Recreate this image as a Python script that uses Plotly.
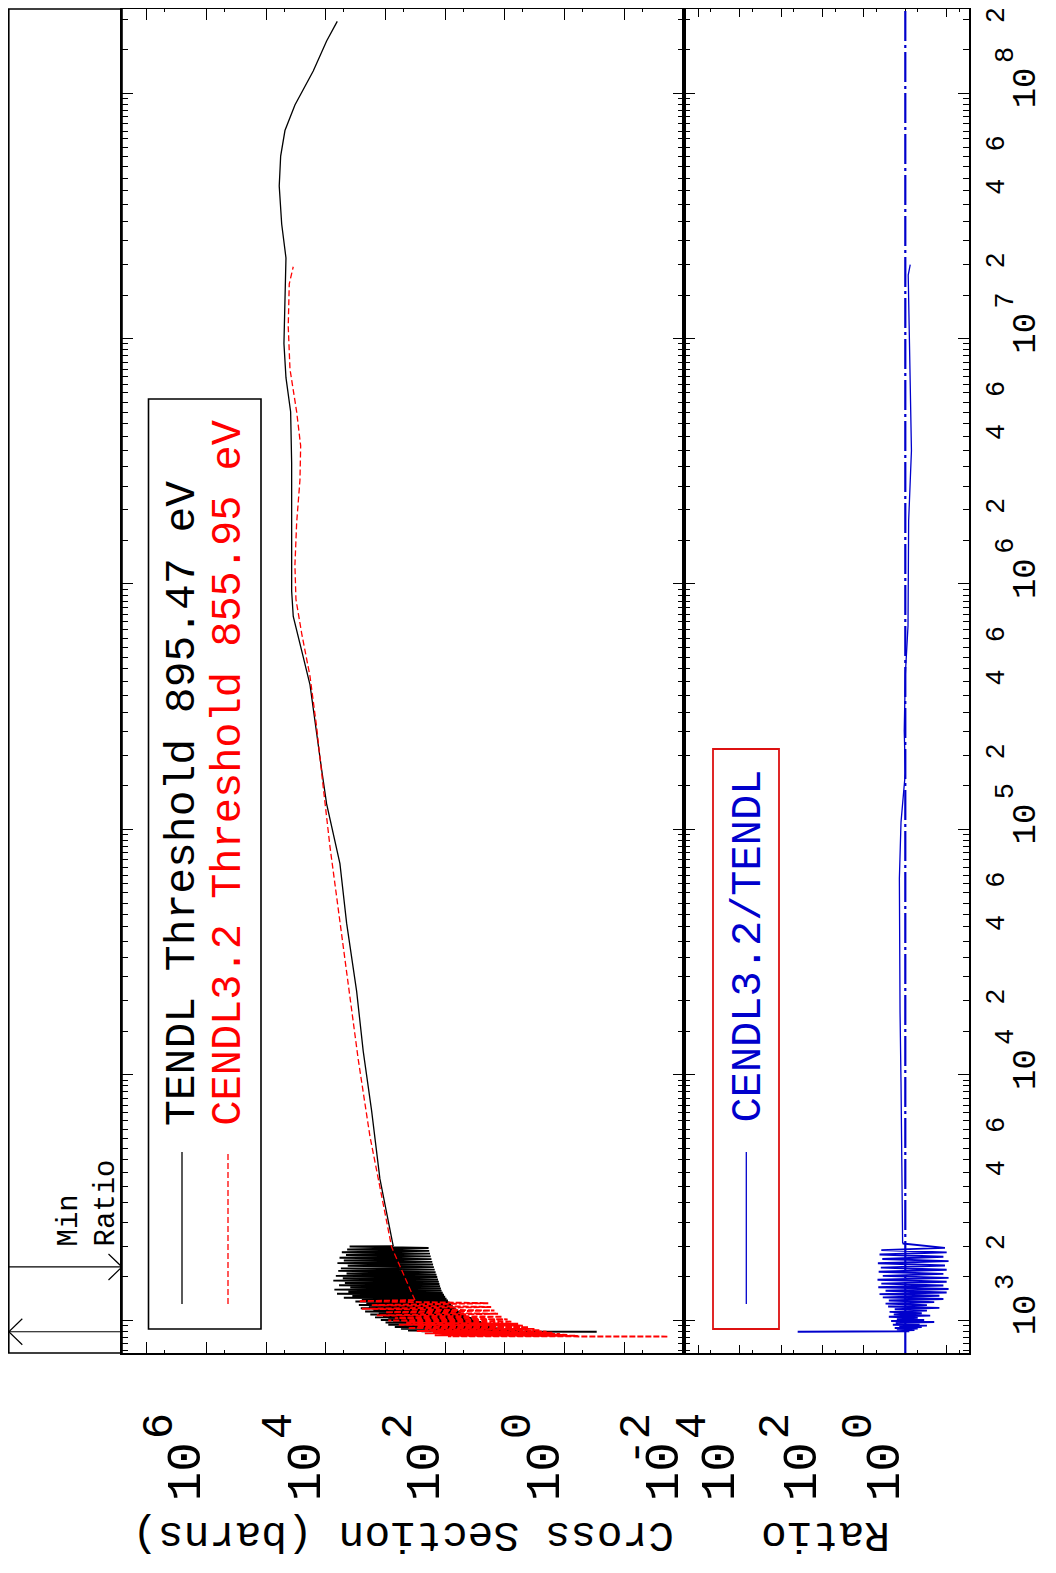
import math
import plotly.graph_objects as go

# ---------------- data ----------------
# TENDL: resonance region (eV, barns)
tendl_res_energy = [895.47, 896, 899, 902, 905, 909, 912, 916, 920, 924,
                    928, 932, 937, 941, 946, 951, 956, 961, 966, 971,
                    977, 982, 988, 994, 1000, 1006, 1012, 1019, 1025, 1032,
                    1039, 1046, 1053, 1060, 1068, 1075, 1083, 1091, 1099, 1107,
                    1116, 1124, 1133, 1142, 1151, 1161, 1170, 1180, 1190, 1200,
                    1211, 1222, 1233, 1244, 1256, 1267, 1279, 1292, 1304, 1317,
                    1330, 1344, 1358, 1372, 1386, 1401, 1416, 1431, 1447, 1463,
                    1479, 1496, 1513, 1530, 1548, 1566, 1585, 1604, 1623, 1643,
                    1663, 1684, 1705, 1726, 1748, 1770, 1793, 1816, 1840, 1864,
                    1888, 1913, 1939, 1965, 1992]
tendl_res_xs = [0.29, 3.8, 250, 6, 420, 8, 300, 10, 550, 12,
                380, 14, 700, 16, 500, 18, 900, 20, 650, 22,
                1000, 25, 750, 28, 1200, 32, 900, 36, 1500, 40,
                1100, 45, 1800, 50, 1300, 55, 2200, 60, 1600, 65,
                2600, 70, 1900, 75, 2800, 80, 2100, 85, 3200, 90,
                2500, 95, 5000, 100, 3600, 105, 6500, 110, 4200, 115,
                7200, 118, 3900, 122, 6000, 125, 4800, 128, 7500, 132,
                5200, 136, 6800, 140, 4500, 145, 6200, 150, 5600, 155,
                4300, 160, 6400, 165, 5000, 170, 5900, 175, 4600, 180,
                5400, 185, 4400, 190, 4000]
# TENDL: smooth region
tendl_energy = [2000, 3758, 7112, 12470, 21830, 41400, 72440, 126800, 174600, 281800,
                388200, 534600, 736200, 935400, 1.288e6, 1.923e6, 3.105e6, 5.023e6,
                6.918e6, 9.528e6, 1.419e7, 2.128e7, 2.924e7, 4.178e7, 5.534e7,
                7.031e7, 8.933e7, 1.230e8, 1.629e8, 1.959e8]
tendl_xs = [743, 1242, 1710, 2366, 3048, 4487, 5808, 9705, 11750, 15240,
            18450, 25410, 35160, 37410, 37410, 36560, 37410, 38900,
            46560, 50350, 48420, 46560, 54950, 60390, 57150,
            48420, 32960, 16260, 9705, 6442]

# CENDL-3.2: resonance region
cendl_res_energy = [855.95, 856.5, 859, 862, 866, 870, 874, 878, 882, 887,
                    892, 897, 902, 908, 914, 920, 927, 934, 941, 949,
                    957, 966, 975, 985, 995, 1006, 1018, 1031, 1045, 1060,
                    1076, 1093, 1111, 1130, 1150, 1171, 1193]
cendl_res_xs = [0.019, 0.43, 90, 0.6, 150, 0.9, 110, 1.2, 220, 1.6,
                160, 2.0, 300, 2.6, 220, 3.2, 420, 4.0, 300, 5,
                600, 6, 450, 7.5, 900, 9, 700, 11, 1400, 13,
                1000, 15, 2500, 17, 1700, 19, 2800]
# CENDL-3.2: smooth region
cendl_energy = [1205, 1982, 3199, 5598, 11510, 23600, 48530, 84920, 148600, 260600,
                420700, 628100, 865000, 1.191e6, 1.774e6, 2.649e6, 3.648e6, 5.023e6,
                7.499e6, 1.119e7, 1.667e7, 1.959e7]
cendl_xs = [322, 791, 1161, 1824, 2864, 4217, 6194, 8531, 11070, 14260,
            18450, 25410, 31700, 32960, 30830, 27160, 26420, 30830,
            39900, 42660, 41020, 35160]

# Ratio CENDL-3.2 / TENDL
ratio_res_energy = [896, 897, 900, 905, 910, 916, 922, 928, 935, 942,
                    949, 957, 965, 973, 982, 991, 1000, 1010, 1020, 1031,
                    1042, 1054, 1066, 1079, 1092, 1106, 1120, 1135, 1150, 1166,
                    1183, 1200, 1218, 1236, 1255, 1275, 1295, 1316, 1338, 1360,
                    1383, 1407, 1432, 1458, 1485, 1513, 1542, 1572, 1603, 1635,
                    1668, 1702, 1737, 1773, 1810, 1848, 1887, 1927, 1968]
ratio_res = [400, 1.1, 0.8, 1.5, 0.6, 1.6, 0.5, 1.8, 0.4, 1.4,
             0.3, 2.0, 0.45, 1.7, 0.2, 2.2, 0.35, 1.6, 0.5, 2.5,
             0.25, 1.9, 0.4, 2.4, 0.3, 1.8, 0.15, 2.6, 0.3, 3.0,
             0.2, 2.5, 0.12, 3.5, 0.15, 4.2, 0.1, 3.0, 0.09, 4.5,
             0.12, 3.8, 0.1, 4.7, 0.09, 3.5, 0.12, 4.4, 0.1, 3.9,
             0.11, 4.6, 0.09, 3.6, 0.12, 4.2, 0.1, 3.8, 0.11]
ratio_energy = [2051, 4842, 9333, 17990, 34750, 62950, 106900, 169400, 251200,
                424600, 673000, 1.807e6, 3.491e6, 9.397e6, 1.811e7, 2.0e7]
ratio_vals = [1.16, 1.20, 1.27, 1.34, 1.39, 1.39, 1.27, 1.0, 1.06,
              1.0, 0.86, 0.83, 0.71, 0.80, 0.85, 0.76]

# markers in the left strip (eV)
min_energy = 895.47
ratio_marker_energy = 1645

# tick labels
xs_label_exps = [6, 4, 2, 0, -2]
ratio_label_exps = [4, 2, 0]
energy_decades = [3, 4, 5, 6, 7, 8]
energy_minor_labels = [2, 4, 6]

# ---------------- geometry ----------------
# page coordinates (1056x1573 window); the page body has an 8px margin
OFF = 8
FW, FH = 1040, 1555
X_STRIP, X_MAIN, X_DIV, X_RIGHT = 8.8, 122, 684, 969
Y_TOP, Y_BOT = 9, 1353
E_RANGE = [2.86553, 8.34230]
XS_RANGE = [7.415, -2.0]
R_RANGE = [5.35, -1.54]


def fx(p):
    return (p - OFF) / FW


def fy(p):
    return 1 - (p - OFF) / FH


MONO = "Liberation Mono"
BLUE = "#0000cc"
NB = "\u00a0"

# energy ticks: every 0.5 x 10^n
e_all = []
for n in range(2, 9):
    for k in range(2, 20):
        v = k * 0.5 * 10 ** n
        if 10 ** E_RANGE[0] <= v <= 10 ** E_RANGE[1]:
            e_all.append(v)
e_dec = [10.0 ** n for n in energy_decades]
e_small = [v for v in e_all if all(abs(v - d) > 1e-6 * d for d in e_dec)]
e_lab_vals = [m * 10.0 ** n for n in range(3, 9) for m in energy_minor_labels
              if m * 10.0 ** n <= 10 ** E_RANGE[1]]
e_lab_text = [str(m) for n in range(3, 9) for m in energy_minor_labels
              if m * 10.0 ** n <= 10 ** E_RANGE[1]]

xs_exps = [n for n in range(-2, 8) if n <= XS_RANGE[0]]
xs_dec = [10.0 ** n for n in xs_exps]
xs_text = ["10" if n in xs_label_exps else "" for n in xs_exps]
xs_sup = [(str(n) if n < 0 else NB + str(n)) if n in xs_label_exps else "" for n in xs_exps]
xs_minor = [5 * 10.0 ** n for n in range(-2, 7) if math.log10(5 * 10.0 ** n) <= XS_RANGE[0]]

r_exps = [n for n in range(-1, 6) if n <= R_RANGE[0]]
r_dec = [10.0 ** n for n in r_exps]
r_text = ["10" if n in ratio_label_exps else "" for n in r_exps]
r_sup = [NB + str(n) if n in ratio_label_exps else "" for n in r_exps]
r_minor = [5 * 10.0 ** n for n in range(-2, 5) if R_RANGE[1] <= math.log10(5 * 10.0 ** n) <= R_RANGE[0]]

fig = go.Figure()

LW = 1.3
RW = 1.9
fig.add_trace(go.Scatter(x=tendl_res_xs + tendl_xs[:1], y=tendl_res_energy + tendl_energy[:1],
                         mode="lines", line=dict(color="black", width=RW),
                         xaxis="x", yaxis="y", showlegend=False))
fig.add_trace(go.Scatter(x=tendl_xs, y=tendl_energy,
                         mode="lines", line=dict(color="black", width=LW),
                         xaxis="x", yaxis="y", showlegend=False))
fig.add_trace(go.Scatter(x=cendl_res_xs + cendl_xs[:1], y=cendl_res_energy + cendl_energy[:1],
                         mode="lines", line=dict(color="red", width=RW, dash="6px,2px"),
                         xaxis="x", yaxis="y", showlegend=False))
fig.add_trace(go.Scatter(x=cendl_xs, y=cendl_energy,
                         mode="lines", line=dict(color="red", width=LW, dash="6px,3px"),
                         xaxis="x", yaxis="y", showlegend=False))
fig.add_trace(go.Scatter(x=ratio_res + ratio_vals[:1], y=ratio_res_energy + ratio_energy[:1],
                         mode="lines", line=dict(color=BLUE, width=RW),
                         xaxis="x2", yaxis="y2", showlegend=False))
fig.add_trace(go.Scatter(x=ratio_vals, y=ratio_energy,
                         mode="lines", line=dict(color=BLUE, width=LW),
                         xaxis="x2", yaxis="y2", showlegend=False))

# arrows in the left strip
px_per_dec = (Y_BOT - Y_TOP) / (E_RANGE[1] - E_RANGE[0])
head_f = 10 ** (13 / px_per_dec)
head_dx = 13.5 / (X_MAIN - X_STRIP)
arr_x, arr_y = [], []
arr_x += [1, 0, None, head_dx, 0, head_dx, None]
arr_y += [min_energy, min_energy, None, min_energy * head_f, min_energy, min_energy / head_f, None]
arr_x += [0, 1, None, 1 - head_dx, 1, 1 - head_dx]
arr_y += [ratio_marker_energy, ratio_marker_energy, None, ratio_marker_energy * head_f,
          ratio_marker_energy, ratio_marker_energy / head_f]
fig.add_trace(go.Scatter(x=arr_x, y=arr_y, mode="lines", line=dict(color="black", width=1.2),
                         xaxis="x3", yaxis="y", showlegend=False, connectgaps=False))

for xa, ya in [("x5", "y"), ("x6", "y2"), ("x2", "y4"), ("x2", "y5")]:
    fig.add_trace(go.Scatter(x=[None], y=[None], xaxis=xa, yaxis=ya, showlegend=False))

axis_common = dict(showline=True, linecolor="black", linewidth=1.6, showgrid=False,
                   zeroline=False, ticks="inside", tickcolor="black", tickwidth=1.3,
                   mirror="ticks", type="log", automargin=False)
label_only = dict(type="log", showline=False, showgrid=False, zeroline=False, ticks="",
                  tickmode="array", automargin=False, ticklabeloverflow="allow")


def minor(vals, ln):
    return dict(tickvals=vals, ticklen=ln, ticks="inside", tickcolor="black", tickwidth=1.2)


XFONT = dict(family=MONO, size=49, color="black")
XSUPFONT = dict(family=MONO, size=44, color="black")
EFONT = dict(family=MONO, size=34, color="black")
ESUPFONT = dict(family=MONO, size=27, color="black")

fig.update_layout(
    width=FW, height=FH,
    margin=dict(l=0, r=0, t=0, b=0, autoexpand=False),
    paper_bgcolor="white", plot_bgcolor="rgba(0,0,0,0)",
    showlegend=False,
    xaxis=dict(**axis_common, domain=[fx(X_MAIN), fx(X_DIV)], range=XS_RANGE, anchor="y",
               tickmode="array", tickvals=xs_dec, ticktext=xs_text, ticklen=11,
               minor=minor(xs_minor, 3),
               tickangle=-90, tickfont=XFONT, ticklabelstandoff=68, ticklabelshift=22),
    xaxis5=dict(**label_only, overlaying="x", anchor="y", side="bottom", range=XS_RANGE,
                tickvals=xs_dec, ticktext=xs_sup,
                tickangle=-90, tickfont=XSUPFONT, ticklabelstandoff=50, ticklabelshift=49),
    yaxis=dict(**axis_common, domain=[fy(Y_BOT), fy(Y_TOP)], range=E_RANGE, anchor="x",
               side="left", tickmode="array", tickvals=e_dec, ticklen=11, showticklabels=False,
               minor=minor(e_small, 6)),
    xaxis2=dict(**axis_common, domain=[fx(X_DIV), fx(X_RIGHT)], range=R_RANGE, anchor="y2",
                tickmode="array", tickvals=r_dec, ticktext=r_text, ticklen=8,
                minor=minor(r_minor, 3),
                tickangle=-90, tickfont=XFONT, ticklabelstandoff=68, ticklabelshift=22),
    xaxis6=dict(**label_only, overlaying="x2", anchor="y2", side="bottom", range=R_RANGE,
                tickvals=r_dec, ticktext=r_sup,
                tickangle=-90, tickfont=XSUPFONT, ticklabelstandoff=50, ticklabelshift=49),
    yaxis2=dict(**axis_common, domain=[fy(Y_BOT), fy(Y_TOP)], range=E_RANGE, anchor="x2",
                side="right", tickmode="array", tickvals=e_dec,
                ticktext=["10" for n in energy_decades], ticklen=11,
                minor=minor(e_small, 6),
                tickangle=-90, tickfont=EFONT, ticklabelstandoff=23),
    yaxis4=dict(**label_only, overlaying="y2", anchor="x2", side="right", range=E_RANGE,
                tickvals=e_lab_vals, ticktext=e_lab_text,
                tickangle=-90, tickfont=ESUPFONT, ticklabelstandoff=7),
    yaxis5=dict(**label_only, overlaying="y2", anchor="x2", side="right", range=E_RANGE,
                tickvals=e_dec, ticktext=[str(n) for n in energy_decades],
                tickangle=-90, tickfont=ESUPFONT, ticklabelstandoff=16, ticklabelshift=-34),
    xaxis3=dict(domain=[fx(X_STRIP), fx(X_MAIN)], range=[0, 1], anchor="y", visible=False,
                showgrid=False, zeroline=False, automargin=False),
)

shapes = []
shapes.append(dict(type="rect", xref="paper", yref="paper", x0=fx(X_STRIP), x1=fx(X_MAIN),
                   y0=fy(Y_BOT), y1=fy(Y_TOP), line=dict(color="black", width=1.6)))
shapes.append(dict(type="line", xref="x2", yref="y2 domain", x0=1, x1=1, y0=0, y1=1,
                   line=dict(color=BLUE, width=2.2, dash="30px,4px,3px,4px")))
shapes.append(dict(type="rect", xref="paper", yref="paper", x0=fx(148.5), x1=fx(261),
                   y0=fy(1329), y1=fy(399), line=dict(color="black", width=1.6)))
shapes.append(dict(type="line", xref="paper", yref="paper", x0=fx(182), x1=fx(182),
                   y0=fy(1304), y1=fy(1152), line=dict(color="black", width=1.3)))
shapes.append(dict(type="line", xref="paper", yref="paper", x0=fx(228), x1=fx(228),
                   y0=fy(1304), y1=fy(1152), line=dict(color="red", width=1.3, dash="6px,3px")))
shapes.append(dict(type="rect", xref="paper", yref="paper", x0=fx(713), x1=fx(779),
                   y0=fy(1329), y1=fy(749), line=dict(color="#dd1111", width=1.8)))
shapes.append(dict(type="line", xref="paper", yref="paper", x0=fx(746.3), x1=fx(746.3),
                   y0=fy(1304), y1=fy(1152), line=dict(color=BLUE, width=1.3)))
fig.update_layout(shapes=shapes)

ann = []
ann.append(dict(text="TENDL Threshold 895.47 eV", xref="paper", yref="paper",
                x=fx(182.5), y=fy(1128), xanchor="center", yanchor="bottom", textangle=-90,
                showarrow=False, font=dict(family=MONO, size=43, color="black")))
ann.append(dict(text="CENDL3.2 Threshold 855.95 eV", xref="paper", yref="paper",
                x=fx(228.7), y=fy(1128), xanchor="center", yanchor="bottom", textangle=-90,
                showarrow=False, font=dict(family=MONO, size=42, color="red")))
ann.append(dict(text="CENDL3.2/TENDL", xref="paper", yref="paper",
                x=fx(748), y=fy(1125), xanchor="center", yanchor="bottom", textangle=-90,
                showarrow=False, font=dict(family=MONO, size=42, color=BLUE)))
ann.append(dict(text="Min<br>Ratio", xref="paper", yref="paper", align="left",
                x=fx(88), y=fy(1249), xanchor="center", yanchor="bottom", textangle=-90,
                showarrow=False, font=dict(family=MONO, size=29, color="black")))
ann.append(dict(text="Cross Section (barns)", xref="paper", yref="paper",
                x=fx(403), y=fy(1535), xanchor="center", yanchor="middle", textangle=180,
                showarrow=False, font=dict(family=MONO, size=43, color="black")))
ann.append(dict(text="Ratio", xref="paper", yref="paper",
                x=fx(826), y=fy(1535), xanchor="center", yanchor="middle", textangle=180,
                showarrow=False, font=dict(family=MONO, size=43, color="black")))
fig.update_layout(annotations=ann)

fig.write_html("out.html")
